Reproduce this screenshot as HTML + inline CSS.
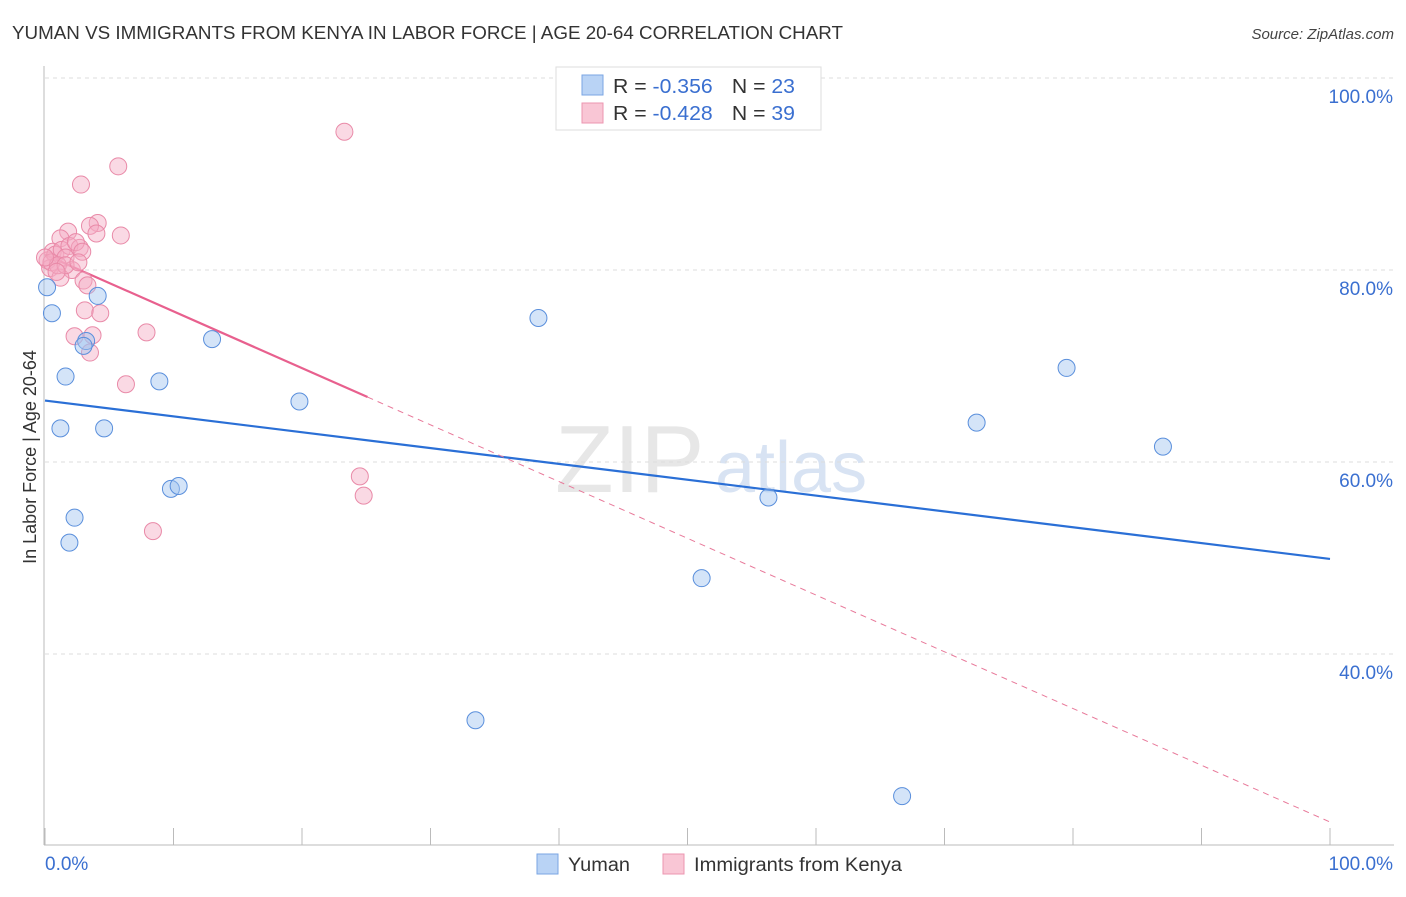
<!DOCTYPE html>
<html><head><meta charset="utf-8">
<style>
body{margin:0;background:#fff;font-family:"Liberation Sans",sans-serif;}
svg text{font-family:"Liberation Sans",sans-serif;}
</style></head>
<body>
<svg id="chart" width="1406" height="892" xmlns="http://www.w3.org/2000/svg">
<text x="12" y="39" font-size="18" fill="#333" textLength="831" lengthAdjust="spacingAndGlyphs">YUMAN VS IMMIGRANTS FROM KENYA IN LABOR FORCE | AGE 20-64 CORRELATION CHART</text>
<text x="1394" y="39" font-size="15" fill="#444" font-style="italic" text-anchor="end">Source: ZipAtlas.com</text>
<text x="36" y="457" font-size="18" fill="#333" text-anchor="middle" transform="rotate(-90 36 457)">In Labor Force | Age 20-64</text>
<g><text x="555" y="492" font-size="96" fill="#ddd" font-family="Liberation Serif,serif" opacity="0.7">ZIP</text><text x="715" y="492" font-size="72" fill="#c8d8ee" opacity="0.7">atlas</text></g>
<g id="grid"></g><g id="axes"></g><g id="lines"></g><g id="pts"></g>
<g>
<rect x="556" y="67" width="265" height="63" fill="#fff" stroke="#ddd"/>
<rect x="582" y="75" width="21" height="20" fill="#b9d3f5" stroke="#7aa6e3"/>
<rect x="582" y="103" width="21" height="20" fill="#f9c6d5" stroke="#ec96b0"/>
<text x="613" y="93" font-size="20" fill="#333" textLength="182" lengthAdjust="spacingAndGlyphs">R = <tspan fill="#3a6fd0">-0.356</tspan><tspan dx="18">N = </tspan><tspan fill="#3a6fd0">23</tspan></text>
<text x="613" y="120" font-size="20" fill="#333" textLength="182" lengthAdjust="spacingAndGlyphs">R = <tspan fill="#3a6fd0">-0.428</tspan><tspan dx="18">N = </tspan><tspan fill="#3a6fd0">39</tspan></text>
</g>
<g>
<rect x="537" y="854" width="21" height="20" fill="#b9d3f5" stroke="#7aa6e3"/>
<text x="568" y="871" font-size="19" fill="#333" textLength="62" lengthAdjust="spacingAndGlyphs">Yuman</text>
<rect x="663" y="854" width="21" height="20" fill="#f9c6d5" stroke="#ec96b0"/>
<text x="694" y="871" font-size="19" fill="#333" textLength="208" lengthAdjust="spacingAndGlyphs">Immigrants from Kenya</text>
</g>
</svg>
<script>
const blueX=[0.16,0.54,1.6,1.2,2.3,1.9,3.2,4.1,4.6,8.9,9.8,10.4,13.0,19.8,38.4,33.5,51.1,56.3,66.7,72.5,79.5,87.0,3.0];
const blueY=[78.2,75.5,68.9,63.5,54.2,51.6,72.6,77.3,63.5,68.4,57.2,57.5,72.8,66.3,75.0,33.1,47.9,56.3,25.2,64.1,69.8,61.6,72.1];
const pinkX=[23.3,5.7,2.8,4.1,3.5,4.0,5.9,1.8,1.2,0.6,0.2,0.8,1.3,1.9,2.7,2.4,2.9,1.6,2.1,0.4,1.2,3.0,3.1,4.3,2.3,3.7,3.5,7.9,6.3,24.5,24.8,8.4,0.5,1.0,0,1.6,2.6,0.9,3.3];
const pinkY=[94.4,90.8,88.9,84.9,84.6,83.8,83.6,84.0,83.3,81.9,81.0,81.6,82.1,82.5,82.3,82.9,81.9,81.3,80.0,80.2,79.2,78.9,75.8,75.5,73.1,73.2,71.4,73.5,68.1,58.5,56.5,52.8,80.8,80.5,81.3,80.5,80.8,79.8,78.4];
const blueTrend=[66.4,49.9];
const pinkTrend=[81.6,22.5];
const pinkSolidEnd=25.1;
const yTicks=[100,80,60,40];
const NS='http://www.w3.org/2000/svg';
const sx=v=>45+v*12.85, sy=v=>78+(100-v)*9.6;
function mk(t,a,p){const e=document.createElementNS(NS,t);for(const k in a)e.setAttribute(k,a[k]);document.getElementById(p).appendChild(e);return e;}
yTicks.forEach(t=>{
 const l=mk('line',{x1:45,x2:1394,y1:sy(t),y2:sy(t),stroke:'#ddd','stroke-dasharray':'4,4'},'grid');
 
 
 const tx=mk('text',{x:1393,y:sy(t)+25,'font-size':19,fill:'#3a6fd0','text-anchor':'end'},'grid');
 tx.textContent=t.toFixed(1)+'%';
 
 
});
let ax=mk('line',{x1:44,x2:44,y1:66,y2:845,stroke:'#bbb'},'axes');

ax=mk('line',{x1:44,x2:1394,y1:845,y2:845,stroke:'#bbb'},'axes');

for(let i=0;i<=10;i++){const t=mk('line',{x1:sx(i*10),x2:sx(i*10),y1:828,y2:845,stroke:'#bbb'},'axes');
 
 }
let t0=mk('text',{x:45,y:870,'font-size':19,fill:'#3a6fd0'},'axes');t0.textContent='0.0%';

t0=mk('text',{x:1393,y:870,'font-size':19,fill:'#3a6fd0','text-anchor':'end'},'axes');t0.textContent='100.0%';

const py=x=>pinkTrend[0]+(pinkTrend[1]-pinkTrend[0])*x/100;
let ln=mk('line',{x1:sx(0),y1:sy(blueTrend[0]),x2:sx(100),y2:sy(blueTrend[1]),stroke:'#2a6fd6','stroke-width':2.2},'lines');

ln=mk('line',{x1:sx(0),y1:sy(py(0)),x2:sx(pinkSolidEnd),y2:sy(py(pinkSolidEnd)),stroke:'#e8608e','stroke-width':2.2},'lines');

ln=mk('line',{x1:sx(pinkSolidEnd),y1:sy(py(pinkSolidEnd)),x2:sx(100),y2:sy(py(100)),stroke:'#e8799a','stroke-width':1,'stroke-dasharray':'6,5'},'lines');

pinkX.forEach((x,i)=>{const c=mk('circle',{cx:sx(x),cy:sy(pinkY[i]),r:8.5,fill:'rgba(245,170,195,0.45)',stroke:'#e98aa8','stroke-width':1},'pts');
 
 });
blueX.forEach((x,i)=>{const c=mk('circle',{cx:sx(x),cy:sy(blueY[i]),r:8.5,fill:'rgba(160,195,240,0.45)',stroke:'#5a8fdc','stroke-width':1},'pts');
 
 });
</script>
</body></html>
